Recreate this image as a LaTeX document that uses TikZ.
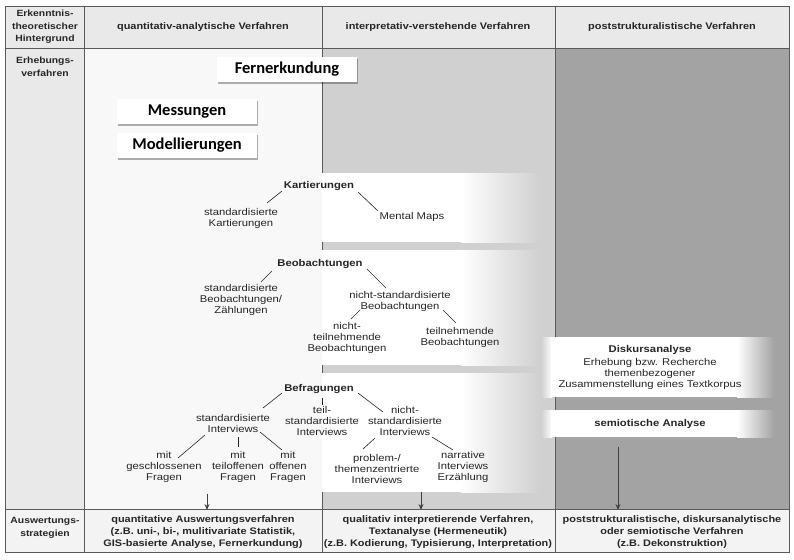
\documentclass[tikz,border=0pt]{standalone}
\usepackage{fontspec}
\setmainfont{Liberation Sans}[FakeStretch=1.15]
\newfontfamily\calfont{Carlito}
\usetikzlibrary{shadows,arrows.meta}
\definecolor{hdr}{HTML}{E9E9E9}
\definecolor{colone}{HTML}{F8F8F8}
\definecolor{midg}{HTML}{D0D0D0}
\definecolor{darkg}{HTML}{A3A3A3}
\definecolor{botbg}{HTML}{F3F3F3}
\definecolor{txt}{HTML}{262626}
\definecolor{linec}{HTML}{5A5A5A}
\tikzset{
  lbl/.style={font=\fontsize{9.8}{11}\selectfont, align=center, inner sep=0pt, text=txt},
  lblb/.style={font=\bfseries\fontsize{9.8}{11}\selectfont, align=center, inner sep=0pt, text=txt},
  hdrtxt/.style={font=\bfseries\fontsize{9.5}{13}\selectfont, align=center, inner sep=0pt, text=txt},
  sidetxt/.style={font=\bfseries\fontsize{9}{12.5}\selectfont, align=center, inner sep=0pt, text=txt},
  bottxt/.style={font=\bfseries\fontsize{9.5}{11.7}\selectfont, align=center, inner sep=0pt, text=txt},
  conn/.style={draw=txt, line width=0.6pt},
  arr/.style={draw=black!75, line width=0.9pt, -{Stealth[length=6pt,width=5pt]}},
  grid/.style={draw=linec, line width=0.8pt},
  calbox/.style={font=\calfont\bfseries\fontsize{16.5}{18}\selectfont, fill=white, text=black,
    minimum width=140pt, minimum height=25pt, inner sep=0pt,
    drop shadow={shadow xshift=1pt, shadow yshift=-2pt, opacity=0.3, fill=black}}
}
\begin{document}
\begin{tikzpicture}[x=1pt,y=-1pt]
\useasboundingbox (0,0) rectangle (794,559);
\fill[white] (0,0) rectangle (794,559);
% backgrounds
\fill[hdr] (5,6) rectangle (789,48);
\fill[hdr] (5,48) rectangle (84,509);
\fill[colone] (84,48) rectangle (322,509);
\fill[midg] (322,48) rectangle (555,509);
\fill[darkg] (555,48) rectangle (789,509);
\fill[botbg] (5,509) rectangle (789,552);
% middle column white bands
\foreach \ya/\yb in {173/242, 250/365, 373/492}{
  \fill[white] (322,\ya) rectangle (462,\yb);
  \shade[left color=white, right color=midg] (461,\ya) rectangle (540,\yb);
}
% right column white bands
\foreach \ya/\yb in {337/397, 410/437}{
  \shade[left color=midg, right color=white] (541,\ya) rectangle (552,\yb);
  \fill[white] (551,\ya) rectangle (738,\yb);
  \shade[left color=white, right color=darkg] (737,\ya) rectangle (774,\yb);
}
% grid
\draw[grid] (5,6) rectangle (789,552);
\draw[grid] (5,48) -- (789,48);
\draw[grid] (5,509) -- (789,509);
\draw[grid] (84,6) -- (84,552);
\draw[grid] (322,6) -- (322,48);
\draw[grid] (322,48) -- (322,173);
\draw[grid] (322,242) -- (322,250);
\draw[grid] (322,365) -- (322,373);
\draw[grid] (322,492) -- (322,552);
\draw[grid] (555,6) -- (555,337);
\draw[grid] (555,397) -- (555,410);
\draw[grid] (555,437) -- (555,552);
% header
\node[sidetxt] (h0) at (45,27) {Erkenntnis-\\theoretischer\\Hintergrund};
\node[hdrtxt] (h1) at (203,27) {quantitativ-analytische Verfahren};
\node[hdrtxt] (h2) at (438,27) {interpretativ-verstehende Verfahren};
\node[hdrtxt] (h3) at (672,27) {poststrukturalistische Verfahren};
\node[sidetxt] (erh) at (45,67) {Erhebungs-\\verfahren};
\node[sidetxt] (ausw) at (45,528) {Auswertungs-\\strategien};
% boxes
\node[calbox] (fern) at (287,69.5) {Fernerkundung};
\node[calbox] (mess) at (187,111.5) {Messungen};
\node[calbox] (mod) at (187,145.5) {Modellierungen};
% Kartierungen
\node[lblb] (kart) at (319,186) {Kartierungen};
\node[lbl] (stdk) at (241,218) {standardisierte\\Kartierungen};
\node[lbl] (mm) at (412,217) {Mental Maps};
\draw[conn] ([shift={(-37,5)}]kart.center) -- ([shift={(26,-15)}]stdk.center);
\draw[conn] ([shift={(39,6)}]kart.center) -- ([shift={(-34,-6)}]mm.center);
% Beobachtungen
\node[lblb] (beob) at (320,264) {Beobachtungen};
\node[lbl] (stdb) at (241,300) {standardisierte\\Beobachtungen/\\Zählungen};
\node[lbl] (nstdb) at (400,301) {nicht-standardisierte\\Beobachtungen};
\node[lbl] (ntb) at (347,338) {nicht-\\teilnehmende\\Beobachtungen};
\node[lbl] (tb) at (460,337) {teilnehmende\\Beobachtungen};
\draw[conn] ([shift={(-48,7)}]beob.center) -- ([shift={(20,-18)}]stdb.center);
\draw[conn] ([shift={(47,5)}]beob.center) -- ([shift={(-14,-13)}]nstdb.center);
\draw[conn] ([shift={(-40,9)}]nstdb.center) -- ([shift={(4,-19)}]ntb.center);
\draw[conn] ([shift={(43,9)}]nstdb.center) -- ([shift={(-4,-14)}]tb.center);
% Befragungen
\node[lblb] (befr) at (319,389) {Befragungen};
\node[lbl] (stdi) at (233,423) {standardisierte\\Interviews};
\node[lbl] (tstdi) at (322,421) {teil-\\standardisierte\\Interviews};
\node[lbl] (nstdi) at (405,421) {nicht-\\standardisierte\\Interviews};
\node[lbl] (mgf) at (164,467) {mit\\geschlossenen\\Fragen};
\node[lbl] (mtf) at (238,467) {mit\\teiloffenen\\Fragen};
\node[lbl] (mof) at (288,467) {mit\\offenen\\Fragen};
\node[lbl] (ptz) at (377,469) {problem-/\\themenzentrierte\\Interviews};
\node[lbl] (nie) at (463,467) {narrative\\Interviews\\Erzählung};
\draw[conn] ([shift={(-37,4)}]befr.center) -- ([shift={(30,-15)}]stdi.center);
\draw[conn] ([shift={(3,9)}]befr.center) -- ([shift={(0,-16)}]tstdi.center);
\draw[conn] ([shift={(39,4)}]befr.center) -- ([shift={(-22,-9)}]nstdi.center);
\draw[conn] ([shift={(-28,12)}]stdi.center) -- ([shift={(14,-9)}]mgf.center);
\draw[conn] ([shift={(5,14)}]stdi.center) -- ([shift={(0,-20)}]mtf.center);
\draw[conn] ([shift={(27,9)}]stdi.center) -- ([shift={(-6,-17)}]mof.center);
\draw[conn] ([shift={(-30,17)}]nstdi.center) -- ([shift={(-14,-20)}]ptz.center);
\draw[conn] ([shift={(27,16)}]nstdi.center) -- ([shift={(-10,-17)}]nie.center);
% right column
\node[lbl] (disk) at (650,367) {\bfseries Diskursanalyse\\[2pt]Erhebung bzw. Recherche\\themenbezogener\\Zusammenstellung eines Textkorpus};
\node[lblb] (semi) at (650,424) {semiotische Analyse};
% arrows
\coordinate (a1s) at (207,494); \coordinate (a1e) at (207,510);
\coordinate (a2s) at (421,492); \coordinate (a2e) at (421,510);
\coordinate (a3s) at (618,447); \coordinate (a3e) at (618,510);
\draw[arr] (a1s) -- (a1e);
\draw[arr] (a2s) -- (a2e);
\draw[arr] (a3s) -- (a3e);
% bottom row
\node[bottxt] (b1) at (203,532) {quantitative Auswertungsverfahren\\(z.B. uni-, bi-, mulitivariate Statistik,\\GIS-basierte Analyse, Fernerkundung)};
\node[bottxt] (b2) at (438,532) {qualitativ interpretierende Verfahren,\\Textanalyse (Hermeneutik)\\(z.B. Kodierung, Typisierung, Interpretation)};
\node[bottxt] (b3) at (672,532) {poststrukturalistische, diskursanalytische\\oder semiotische Verfahren\\(z.B. Dekonstruktion)};
\end{tikzpicture}
\end{document}
